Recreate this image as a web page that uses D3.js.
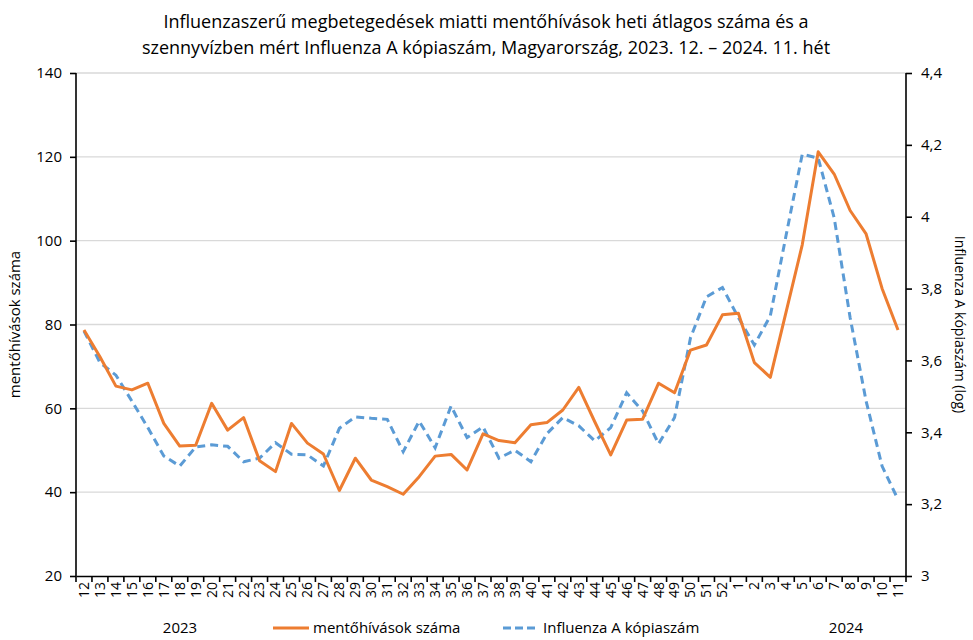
<!DOCTYPE html>
<html>
<head>
<meta charset="utf-8">
<script src="https://cdn.jsdelivr.net/npm/d3@7"></script>
<style>
  body { margin: 0; background: #fff; }
  svg text { font-family: "Open Sans", sans-serif; fill: #000; }
</style>
</head>
<body>
<svg width="973" height="640"></svg>
<script>
// weeks 2023/12 .. 2024/11
const weeks = ["12","13","14","15","16","17","18","19","20","21","22","23","24","25","26","27","28","29","30","31","32","33","34","35","36","37","38","39","40","41","42","43","44","45","46","47","48","49","50","51","52","1","2","3","4","5","6","7","8","9","10","11"];

// mentőhívások száma (left axis)
const calls = [78.7,72.3,65.3,64.4,66,56.4,51,51.2,61.2,54.8,57.8,47.5,44.9,56.4,51.7,49.1,40.4,48.1,42.9,41.3,39.5,43.7,48.6,49,45.3,53.9,52.3,51.8,56.1,56.6,59.6,65,56.8,48.9,57.2,57.4,66,63.7,73.9,75.1,82.3,82.7,70.9,67.4,83.2,99,121.2,115.9,107.2,101.6,88.6,78.7];

// Influenza A kópiaszám, log (right axis)
const copies = [3.682,3.594,3.559,3.487,3.413,3.334,3.306,3.359,3.365,3.361,3.318,3.328,3.371,3.339,3.337,3.306,3.411,3.443,3.439,3.436,3.346,3.431,3.357,3.473,3.385,3.415,3.328,3.35,3.318,3.396,3.441,3.418,3.376,3.413,3.51,3.459,3.368,3.441,3.663,3.777,3.803,3.719,3.643,3.724,3.951,4.174,4.163,3.997,3.719,3.487,3.306,3.213];

const leftTicks = [20,40,60,80,100,120,140];
const rightTicks = [3,3.2,3.4,3.6,3.8,4,4.2,4.4];

const svg = d3.select("svg");
const margin = {left: 76, right: 67, top: 73, bottom: 64};
const width = 973, height = 640;
const x0 = margin.left, x1 = width - margin.right;
const y0 = height - margin.bottom, y1 = margin.top;

const x = d3.scaleBand().domain(weeks).range([x0, x1]);
const yL = d3.scaleLinear().domain([20, 140]).range([y0, y1]);
const yR = d3.scaleLinear().domain([3, 4.4]).range([y0, y1]);
const fmt = d => String(d).replace(".", ",");

// gridlines
svg.append("g")
  .selectAll("line")
  .data(leftTicks.slice(1))
  .join("line")
  .attr("x1", x0).attr("x2", x1)
  .attr("y1", d => yL(d)).attr("y2", d => yL(d))
  .attr("stroke", "#d9d9d9").attr("stroke-width", 1.3);

// left axis
const gl = svg.append("g").attr("transform", `translate(${x0},0)`)
  .call(d3.axisLeft(yL).tickValues(leftTicks).tickSize(6).tickPadding(8));
// right axis
const gr = svg.append("g").attr("transform", `translate(${x1},0)`)
  .call(d3.axisRight(yR).tickValues(rightTicks).tickSize(6).tickPadding(9).tickFormat(fmt));
// bottom axis
const gb = svg.append("g").attr("transform", `translate(0,${y0})`)
  .call(d3.axisBottom(x).tickSize(0).tickPadding(6));

[gl, gr, gb].forEach(g => {
  g.selectAll("path, line").attr("stroke", "#000").attr("stroke-width", 1.6);
  g.selectAll("text").style("font-size", "15px").attr("fill", "#000");
});
gl.select(".domain").attr("d", `M0,${y0}V${y1}`);
gr.select(".domain").attr("d", `M0,${y0}V${y1}`);

gb.selectAll("text")
  .style("font-size", "14px")
  .attr("transform", "rotate(-90)")
  .attr("text-anchor", "end")
  .attr("x", -6).attr("y", 0).attr("dy", "0.35em");

// category boundary ticks on x axis
const bounds = weeks.map(w => x(w)).concat([x1]);
svg.append("g")
  .selectAll("line")
  .data(bounds)
  .join("line")
  .attr("x1", d => d).attr("x2", d => d)
  .attr("y1", y0).attr("y2", y0 + 6)
  .attr("stroke", "#000").attr("stroke-width", 1.6);

const cx = (d, i) => x(weeks[i]) + x.bandwidth() / 2;

svg.append("path")
  .datum(copies)
  .attr("fill", "none")
  .attr("stroke", "#5b9bd5")
  .attr("stroke-width", 3)
  .attr("stroke-dasharray", "8,5")
  .attr("d", d3.line().x(cx).y(d => yR(d)));

svg.append("path")
  .datum(calls)
  .attr("fill", "none")
  .attr("stroke", "#ed7d31")
  .attr("stroke-width", 3)
  .attr("stroke-linejoin", "round")
  .attr("d", d3.line().x(cx).y(d => yL(d)));

// title
const title = svg.append("text").attr("text-anchor", "middle").style("font-size", "18px");
title.append("tspan").attr("x", 486).attr("y", 28)
  .text("Influenzaszerű megbetegedések miatti mentőhívások heti átlagos száma és a");
title.append("tspan").attr("x", 486).attr("y", 54)
  .text("szennyvízben mért Influenza A kópiaszám, Magyarország, 2023. 12. – 2024. 11. hét");

// axis titles
svg.append("text")
  .attr("transform", `translate(20,${(y0 + y1) / 2}) rotate(-90)`)
  .attr("text-anchor", "middle").style("font-size", "15px")
  .text("mentőhívások száma");
svg.append("text")
  .attr("transform", `translate(955,${(y0 + y1) / 2}) rotate(90)`)
  .attr("text-anchor", "middle").style("font-size", "14px")
  .text("Influenza A kópiaszám (log)");

// year labels
svg.append("text").attr("x", 180).attr("y", 633).attr("text-anchor", "middle").style("font-size", "15px").text("2023");
svg.append("text").attr("x", 846).attr("y", 633).attr("text-anchor", "middle").style("font-size", "15px").text("2024");

// legend
const legend = [
  {label: "mentőhívások száma", color: "#ed7d31", dash: null, x: 273},
  {label: "Influenza A kópiaszám", color: "#5b9bd5", dash: "8,4", x: 503}
];
const lg = svg.append("g").selectAll("g").data(legend).join("g")
  .attr("transform", d => `translate(${d.x},628)`);
lg.append("line").attr("x1", 0).attr("x2", 36)
  .attr("stroke", d => d.color).attr("stroke-width", 3)
  .attr("stroke-dasharray", d => d.dash);
lg.append("text").attr("x", 40).attr("dy", "0.35em").style("font-size", "15px")
  .text(d => d.label);
</script>
</body>
</html>
